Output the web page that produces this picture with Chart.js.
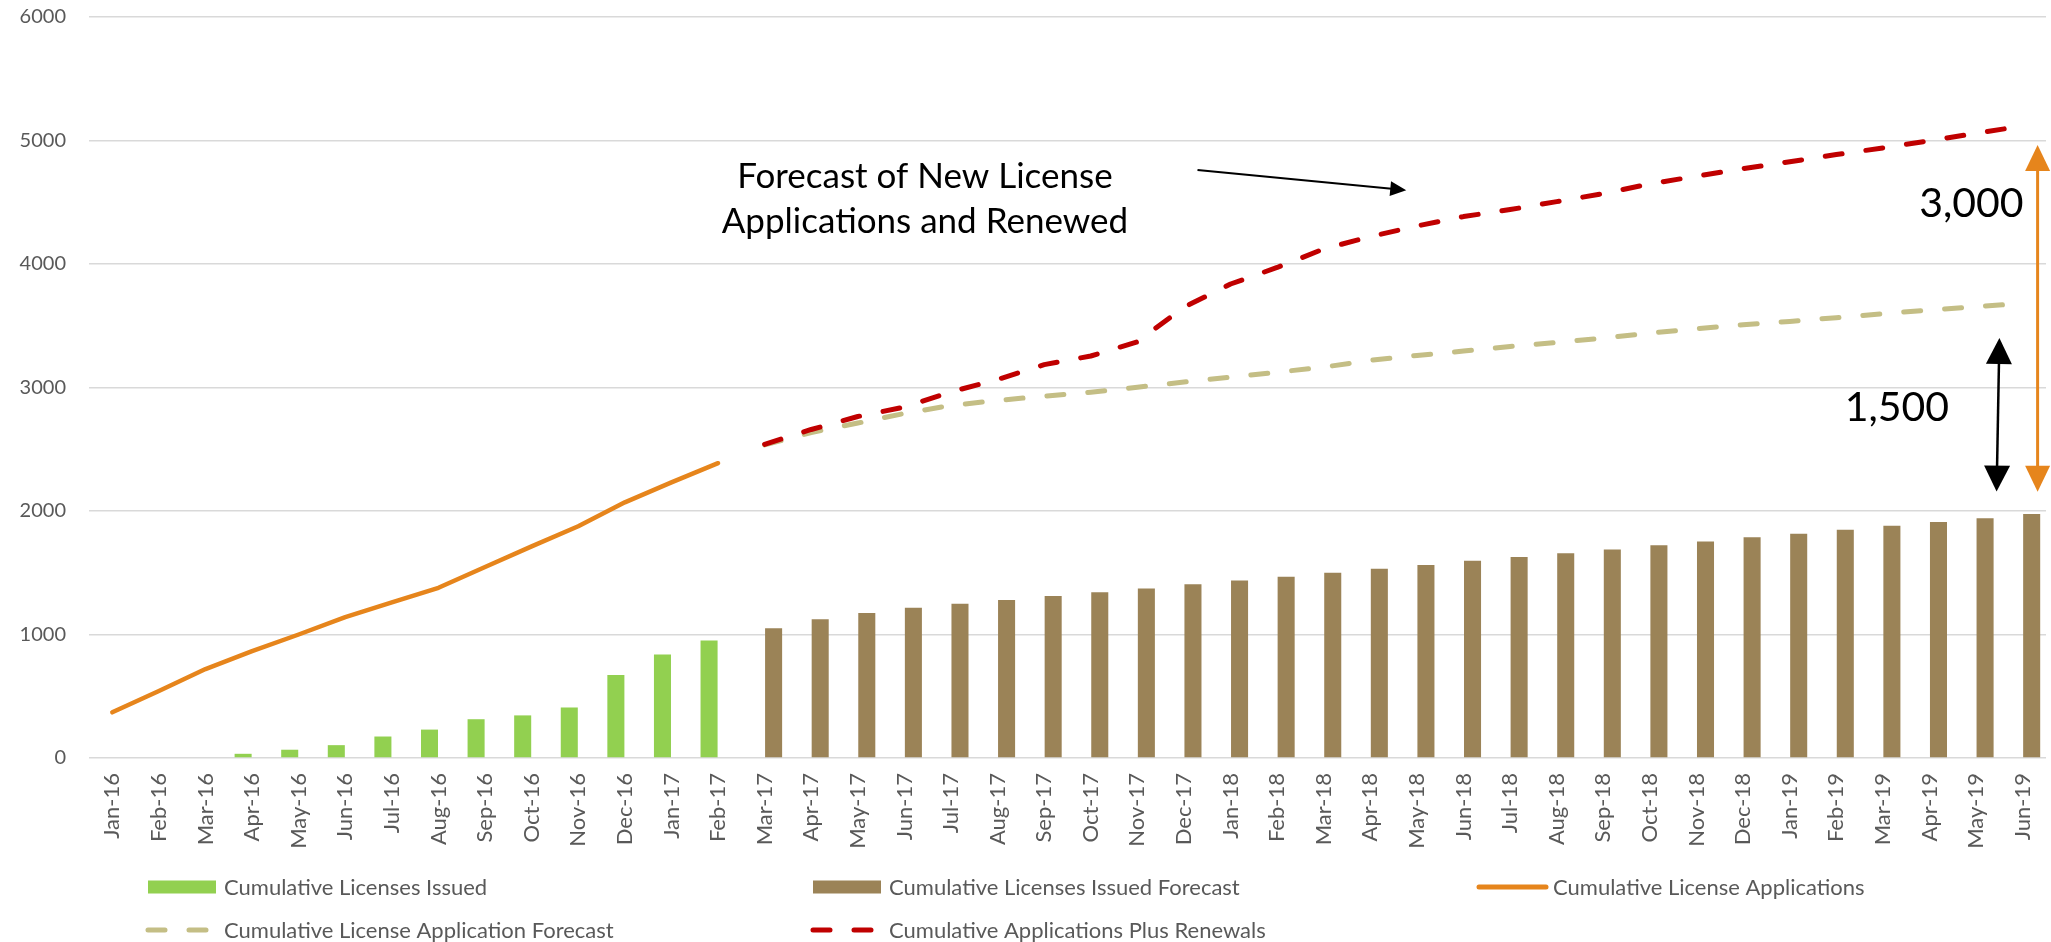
<!DOCTYPE html>
<html><head><meta charset="utf-8">
<script src="https://cdn.jsdelivr.net/npm/chart.js@4/dist/chart.umd.min.js"></script>
<style>html,body{margin:0;padding:0;background:#fff;} canvas{display:block;}</style>
</head><body>
<canvas id="c" width="2051" height="942"></canvas>
<script>
// ---------- DATA ----------
const months = ['Jan-16','Feb-16','Mar-16','Apr-16','May-16','Jun-16','Jul-16','Aug-16','Sep-16','Oct-16','Nov-16','Dec-16',
  'Jan-17','Feb-17','Mar-17','Apr-17','May-17','Jun-17','Jul-17','Aug-17','Sep-17','Oct-17','Nov-17','Dec-17',
  'Jan-18','Feb-18','Mar-18','Apr-18','May-18','Jun-18','Jul-18','Aug-18','Sep-18','Oct-18','Nov-18','Dec-18',
  'Jan-19','Feb-19','Mar-19','Apr-19','May-19','Jun-19'];
const yTickLabels = ['0','1000','2000','3000','4000','5000','6000'];

const licensesIssued = [null,null,null,34,67,104,174,230,314,345,409,672,838,952,
  null,null,null,null,null,null,null,null,null,null,null,null,null,null,
  null,null,null,null,null,null,null,null,null,null,null,null,null,null];
const licensesIssuedForecast = [null,null,null,null,null,null,null,null,null,null,null,null,null,null,
  1050,1123,1174,1216,1249,1280,1311,1342,1373,1406,1437,1468,1501,1532,
  1563,1597,1627,1658,1689,1723,1754,1787,1815,1849,1880,1910,1941,1975];
const licenseApplications = [370,543,720,866,1000,1140,1260,1378,1546,1714,1877,2070,2232,2387,
  null,null,null,null,null,null,null,null,null,null,null,null,null,null,
  null,null,null,null,null,null,null,null,null,null,null,null,null,null];
const applicationForecast = [null,null,null,null,null,null,null,null,null,null,null,null,null,null,
  2535,2635,2712,2790,2855,2895,2930,2962,3002,3044,3084,3124,3165,3220,
  3259,3295,3332,3365,3400,3441,3476,3508,3535,3565,3597,3627,3654,3681];
const applicationsPlusRenewals = [null,null,null,null,null,null,null,null,null,null,null,null,null,null,
  2540,2660,2765,2842,2965,3065,3185,3255,3370,3650,3838,3972,4122,4222,
  4308,4384,4441,4505,4570,4649,4711,4772,4828,4886,4940,4998,5058,5118];

const seriesNames = ['Cumulative Licenses Issued','Cumulative Licenses Issued Forecast','Cumulative License Applications',
  'Cumulative License Application Forecast','Cumulative Applications Plus Renewals'];
const calloutText = ['Forecast of New License','Applications and Renewed'];
const gapLabels = ['3,000','1,500'];

// ---------- STYLE ----------
const FONT = 'Lato, "Open Sans", sans-serif';
Chart.defaults.font.family = FONT;
const C_GREEN = '#92D050', C_BROWN = '#9B8357', C_ORANGE = '#E6851C', C_TAN = '#C4BE85', C_RED = '#C00000';
const TXT = '#595959';
const CLEAR = 'rgba(0,0,0,0)';

function arrowHead(c, tx, ty, fx, fy, len, wid, color) {
  const a = Math.atan2(ty - fy, tx - fx);
  c.save();
  c.fillStyle = color;
  c.beginPath();
  c.moveTo(tx, ty);
  c.lineTo(tx - len*Math.cos(a) + wid/2*Math.sin(a), ty - len*Math.sin(a) - wid/2*Math.cos(a));
  c.lineTo(tx - len*Math.cos(a) - wid/2*Math.sin(a), ty - len*Math.sin(a) + wid/2*Math.cos(a));
  c.closePath();
  c.fill();
  c.restore();
}
function doubleArrow(c, x1, y1, x2, y2, lw, len, wid, color) {
  const d = Math.hypot(x2-x1, y2-y1), ux = (x2-x1)/d, uy = (y2-y1)/d;
  c.save();
  c.strokeStyle = color; c.lineWidth = lw;
  c.beginPath();
  c.moveTo(x1 + ux*(len-2), y1 + uy*(len-2));
  c.lineTo(x2 - ux*(len-2), y2 - uy*(len-2));
  c.stroke();
  c.restore();
  arrowHead(c, x1, y1, x2, y2, len, wid, color);
  arrowHead(c, x2, y2, x1, y1, len, wid, color);
}

const annotations = {
  id: 'annotations',
  afterDatasetsDraw(chart) {
    const c = chart.ctx, xs = chart.scales.x, ys = chart.scales.y;
    const step = xs.getPixelForValue(1) - xs.getPixelForValue(0);
    const px = i => xs.getPixelForValue(0) + i*step;
    const py = v => ys.getPixelForValue(v);
    c.save();
    // callout text
    c.fillStyle = '#000';
    c.font = '35px ' + FONT;
    c.textAlign = 'center'; c.textBaseline = 'alphabetic';
    c.fillText(calloutText[0], px(17.44), py(4616));
    c.fillText(calloutText[1], px(17.44), py(4252));
    // callout arrow
    const ax1 = px(23.29), ay1 = py(4761), ax2 = px(27.77), ay2 = py(4598);
    c.strokeStyle = '#000'; c.lineWidth = 2;
    c.beginPath(); c.moveTo(ax1, ay1); c.lineTo(ax2 - 12, ay2 - 1.2); c.stroke();
    arrowHead(c, ax2, ay2, ax1, ay1, 16, 15, '#000');
    // gap labels
    c.font = '41px ' + FONT;
    c.textAlign = 'right';
    c.fillText(gapLabels[0], px(41.02), py(4381));
    c.fillText(gapLabels[1], px(39.42), py(2725));
    // orange double arrow
    doubleArrow(c, px(41.32), py(4964), px(41.32), py(2156), 3, 26, 25, C_ORANGE);
    // black double arrow
    doubleArrow(c, px(40.5), py(3400), px(40.44), py(2157), 2.5, 26, 26, '#000');
    c.restore();
  }
};

const customLegend = {
  id: 'customLegend',
  afterDraw(chart) {
    const c = chart.ctx;
    const ds = chart.data.datasets;
    const cols = [148, 813, 1477], rows = [887, 930];
    const slots = [[0,0],[1,0],[2,0],[0,1],[1,1]];
    c.save();
    c.font = '22px ' + FONT;
    c.textBaseline = 'middle'; c.textAlign = 'left';
    ds.forEach((d, k) => {
      const x0 = cols[slots[k][0]], y0 = rows[slots[k][1]];
      if (d.type === 'bar' || !d.type) {
        c.fillStyle = d.backgroundColor;
        c.fillRect(x0, y0 - 6.5, 68, 13);
      } else {
        c.strokeStyle = d.borderColor; c.lineWidth = 5; c.lineCap = 'round';
        c.setLineDash(d.borderDash || []);
        c.beginPath();
        if (d.borderDash) { c.moveTo(x0, y0); c.lineTo(x0 + 62, y0); }
        else { c.moveTo(x0 + 2, y0); c.lineTo(x0 + 69, y0); }
        c.stroke();
        c.setLineDash([]);
      }
      c.fillStyle = TXT;
      c.fillText(d.label, x0 + 76, y0 + 1);
    });
    c.restore();
  }
};

new Chart(document.getElementById('c'), {
  type: 'bar',
  data: {
    labels: months,
    datasets: [
      { type: 'bar', label: seriesNames[0], data: licensesIssued, backgroundColor: C_GREEN, order: 3,
        categoryPercentage: 0.77, barPercentage: 0.95 },
      { type: 'bar', label: seriesNames[1], data: licensesIssuedForecast, backgroundColor: C_BROWN, order: 4,
        categoryPercentage: 0.77, barPercentage: 0.95 },
      { type: 'line', label: seriesNames[2], data: licenseApplications, borderColor: C_ORANGE, borderWidth: 4.5,
        pointRadius: 0, tension: 0, borderCapStyle: 'round', borderJoinStyle: 'round', order: 2, fill: false },
      { type: 'line', label: seriesNames[3], data: applicationForecast, borderColor: C_TAN, borderWidth: 5,
        borderDash: [17, 24], pointRadius: 0, tension: 0, borderCapStyle: 'round', borderJoinStyle: 'round', order: 1, fill: false },
      { type: 'line', label: seriesNames[4], data: applicationsPlusRenewals, borderColor: C_RED, borderWidth: 5,
        borderDash: [17, 24], pointRadius: 0, tension: 0, borderCapStyle: 'round', borderJoinStyle: 'round', order: 0, fill: false }
    ]
  },
  options: {
    responsive: false, animation: false, devicePixelRatio: 1,
    layout: { padding: { left: 0, right: 5, top: 17, bottom: 84 } },
    plugins: { legend: { display: false }, tooltip: { enabled: false } },
    scales: {
      x: {
        grid: { display: true, drawOnChartArea: false, drawTicks: true, tickLength: 15, color: CLEAR, tickColor: CLEAR },
        border: { display: false },
        ticks: { minRotation: 90, maxRotation: 90, autoSkip: false, padding: 0, color: TXT, font: { size: 22 } },
        afterFit(s) { s.height = 100; }
      },
      y: {
        min: 0, max: 6000,
        ticks: { stepSize: 1000, padding: 0, color: TXT, font: { size: 20 }, callback: (v, i) => yTickLabels[i] },
        grid: { color: '#D9D9D9', lineWidth: 1.5, drawTicks: true, tickLength: 23, tickColor: CLEAR },
        border: { display: false },
        afterFit(s) { s.width = 89; }
      }
    }
  },
  plugins: [annotations, customLegend]
});
</script>
</body></html>
